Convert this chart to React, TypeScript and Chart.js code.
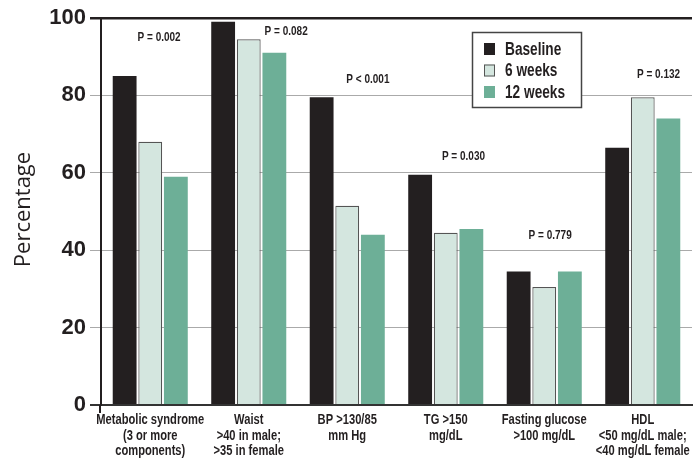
import React, { useEffect, useRef } from "react";
import { Chart, registerables } from "chart.js";

Chart.register(...registerables);

const categories: string[][] = [
  ["Metabolic syndrome", "(3 or more", "components)"],
  ["Waist", ">40 in male;", ">35 in female"],
  ["BP >130/85", "mm Hg"],
  ["TG >150", "mg/dL"],
  ["Fasting glucose", ">100 mg/dL"],
  ["HDL", "<50 mg/dL male;", "<40 mg/dL female"],
];
const seriesNames = ["Baseline", "6 weeks", "12 weeks"];
const baseline = [85, 99, 79.5, 59.5, 34.5, 66.5];
const sixWeeks = [68, 94.5, 51.5, 44.5, 30.5, 79.5];
const twelveWeeks = [59, 91, 44, 45.5, 34.5, 74];
const pValues = ["P = 0.002", "P = 0.082", "P < 0.001", "P = 0.030", "P = 0.779", "P = 0.132"];
// annotation anchor: category position (fractional index) and level (%)
const pLabelPos = [0.09, 1.38, 2.21, 3.18, 4.06, 5.16];
const pLabelLevel = [95, 96.6, 84, 64.3, 43.7, 85.3];
const yTicks = [0, 20, 40, 60, 80, 100];
const yTitle = "Percentage";

const COLORS = ["#231f20", "#d4e6df", "#6daf97"];
const FONT = "'Liberation Sans', Arial, sans-serif";
const TEXT = "#231f20";

function condensedText(ctx: any, text: string, x: number, y: number, sx: number) {
  ctx.save();
  ctx.translate(x, y);
  ctx.scale(sx, 1);
  ctx.fillText(text, 0, 0);
  ctx.restore();
}

const annotPlugin = {
  id: "annot",
  afterDraw(chart: any) {
    const ctx = chart.ctx;
    const x = chart.scales.x;
    const y = chart.scales.y;
    const ca = chart.chartArea;
    ctx.save();
    ctx.strokeStyle = "#231f20";
    ctx.lineWidth = 2;
    ctx.beginPath();
    ctx.moveTo(100, y.getPixelForValue(0));
    ctx.lineTo(100, y.getPixelForValue(0) + 8);
    ctx.stroke();
    // category labels
    ctx.fillStyle = TEXT;
    ctx.font = `bold 14.5px ${FONT}`;
    ctx.textAlign = "center";
    ctx.textBaseline = "middle";
    (chart.data.labels as string[][]).forEach((lines, i) => {
      const cx = x.getPixelForValue(i);
      lines.forEach((ln, j) => {
        condensedText(ctx, ln, cx, ca.bottom + 15 + j * 15.7, 0.77);
      });
    });
    // P labels
    ctx.font = `bold 13px ${FONT}`;
    const cw = x.getPixelForValue(1) - x.getPixelForValue(0);
    pValues.forEach((p, i) => {
      const px = x.getPixelForValue(0) + cw * pLabelPos[i];
      condensedText(ctx, p, px, y.getPixelForValue(pLabelLevel[i]), 0.77);
    });
    // Y title
    ctx.save();
    ctx.translate(24, (ca.top + ca.bottom) / 2 - 2);
    ctx.rotate(-Math.PI / 2);
    ctx.font = `22px 'Open Sans', sans-serif`;
    ctx.fillStyle = TEXT;
    ctx.fillText(yTitle, 0, 0);
    ctx.restore();
    // Legend box
    const lx = 472.5, ly = 32.5, lw = 109, lh = 75;
    ctx.fillStyle = "#ffffff";
    ctx.fillRect(lx, ly, lw, lh);
    ctx.strokeStyle = "#444";
    ctx.lineWidth = 1.5;
    ctx.strokeRect(lx, ly, lw, lh);
    ctx.font = `bold 18px ${FONT}`;
    ctx.textAlign = "left";
    chart.data.datasets.forEach((ds: any, i: number) => {
      const cy = ly + 16.5 + i * 21.5;
      ctx.fillStyle = ds.backgroundColor;
      ctx.fillRect(lx + 11.5, cy - 6, 11, 12);
      if (ds.borderWidth) {
        ctx.strokeStyle = ds.borderColor;
        ctx.lineWidth = 1;
        ctx.strokeRect(lx + 12, cy - 5.5, 10, 11);
      }
      ctx.fillStyle = TEXT;
      condensedText(ctx, ds.label, lx + 32.5, cy + 1, 0.76);
    });
    ctx.restore();
  },
};

export default function App() {
  const ref = useRef<HTMLCanvasElement>(null);
  useEffect(() => {
    if (!ref.current) return;
    const chart = new Chart(ref.current, {
      type: "bar",
      data: {
        labels: categories,
        datasets: [
          { label: seriesNames[0], data: baseline, backgroundColor: COLORS[0], borderWidth: 0 },
          { label: seriesNames[1], data: sixWeeks, backgroundColor: COLORS[1], borderColor: "#555", borderWidth: 1.2 },
          { label: seriesNames[2], data: twelveWeeks, backgroundColor: COLORS[2], borderWidth: 0 },
        ],
      },
      options: {
        responsive: false,
        animation: false,
        devicePixelRatio: 1,
        layout: { padding: { top: 18, right: 2, left: 0, bottom: 0 } },
        datasets: { bar: { categoryPercentage: 0.78, barPercentage: 0.93 } },
        plugins: { legend: { display: false }, tooltip: { enabled: false } },
        scales: {
          x: {
            grid: { display: false, drawTicks: false },
            border: { display: true, color: "#333", width: 2 },
            ticks: { display: false },
            afterFit(scale: any) { scale.height = 55; },
          },
          y: {
            min: 0,
            max: 100,
            afterBuildTicks(scale: any) { scale.ticks = yTicks.map((v) => ({ value: v })); },
            grid: {
              color: (c: any) => (c.tick && c.tick.value === 100 ? "#231f20" : c.tick && c.tick.value === 0 ? "#333" : "#aaa"),
              lineWidth: (c: any) => (c.tick && c.tick.value === 100 ? 2.5 : c.tick && c.tick.value === 0 ? 2 : 1),
              tickLength: 11,
            },
            border: { display: true, color: "#231f20", width: 2 },
            ticks: {
              color: TEXT,
              font: { family: FONT, size: 22, weight: "bold" },
              padding: 4,
            },
            afterFit(scale: any) { scale.width = 101; },
          },
        },
      },
      plugins: [annotPlugin],
    } as any);
    return () => chart.destroy();
  }, []);
  return (
    <div style={{ position: "fixed", left: 0, top: 0, width: 694, height: 460, background: "#fff" }}>
      <canvas ref={ref} width={694} height={460} />
    </div>
  );
}
